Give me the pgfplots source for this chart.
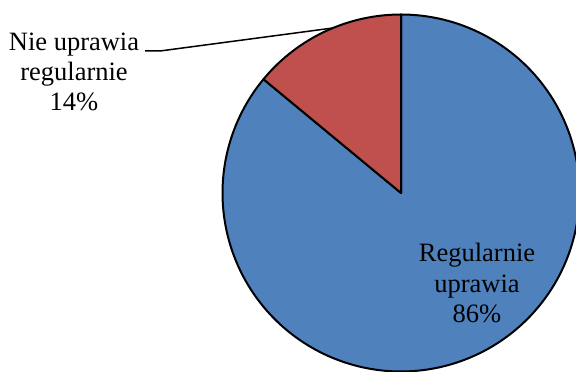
\documentclass[border=0pt]{standalone}
\usepackage{pgfplots}
\usepackage{pgfplotstable}
\pgfplotsset{compat=1.18}
\usepackage{fontspec}
\setmainfont{Liberation Serif}
\definecolor{pieblue}{HTML}{4F81BD}
\definecolor{piered}{HTML}{C0504D}
\pgfplotstableread{
label value
Nie 14
Reg 86
}\piedata
\pgfplotstablegetelem{0}{value}\of\piedata
\let\vA\pgfplotsretval
\pgfmathsetmacro\aEnd{90+3.6*\vA}
\begin{document}
\begin{tikzpicture}
\begin{axis}[
  scale only axis, width=576bp, height=372bp,
  xmin=0, xmax=576, ymin=0, ymax=372,
  hide axis, clip=true,
]
\addplot[fill=pieblue, draw=black, line width=2bp, line join=round, domain=\aEnd:450, samples=180, variable=\t]
  ({401+178.5*cos(\t)},{179+178.5*sin(\t)}) -- (axis cs:401,179) -- cycle;
\addplot[fill=piered, draw=black, line width=2bp, line join=round, domain=90:\aEnd, samples=40, variable=\t]
  ({401+178.5*cos(\t)},{179+178.5*sin(\t)}) -- (axis cs:401,179) -- cycle;
\addplot[black, line width=1.5bp] coordinates {(145,321) (160,321) (333,344)};
\node[anchor=base, font=\fontsize{26.5bp}{30bp}\selectfont, inner sep=0pt] at (axis cs:74,321) {Nie uprawia};
\node[anchor=base, font=\fontsize{26.5bp}{30bp}\selectfont, inner sep=0pt] at (axis cs:74,291) {regularnie};
\node[anchor=base, font=\fontsize{26.5bp}{30bp}\selectfont, inner sep=0pt] at (axis cs:74,261) {14\%};
\node[anchor=base, font=\fontsize{26.5bp}{30bp}\selectfont, inner sep=0pt] at (axis cs:477,110) {Regularnie};
\node[anchor=base, font=\fontsize{26.5bp}{30bp}\selectfont, inner sep=0pt] at (axis cs:477,79) {uprawia};
\node[anchor=base, font=\fontsize{26.5bp}{30bp}\selectfont, inner sep=0pt] at (axis cs:477,49) {86\%};
\end{axis}
\pgfresetboundingbox
\path[use as bounding box] (current axis.south west) rectangle (current axis.north east);
\end{tikzpicture}
\end{document}
